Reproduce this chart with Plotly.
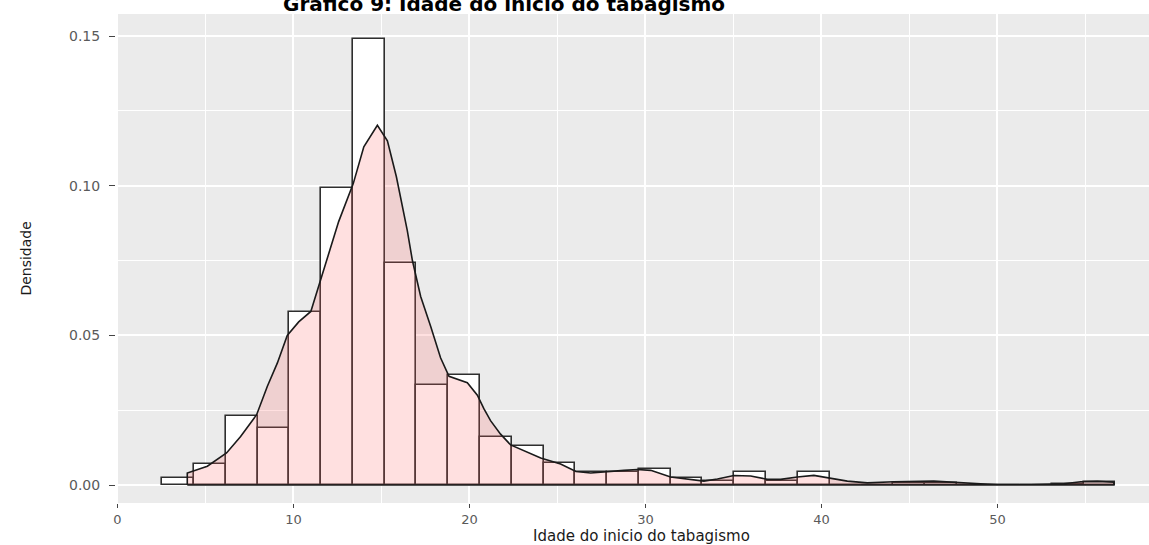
import plotly.graph_objects as go

# Histogram bins (age, years) and their densities
bin_edges = [2.55, 4.36, 6.16, 7.97, 9.77, 11.58, 13.38, 15.19, 16.99, 18.80,
             20.60, 22.41, 24.21, 26.02, 27.82, 29.63, 31.43, 33.24, 35.04, 36.85,
             38.65, 40.46, 42.26, 44.07, 45.87, 47.68, 49.48, 51.29, 53.09, 54.90,
             56.70]
bin_density = [0.0024, 0.0070, 0.0230, 0.0192, 0.0578, 0.0991, 0.1490, 0.0743,
               0.0335, 0.0368, 0.0160, 0.0129, 0.0072, 0.0044, 0.0044, 0.0054,
               0.0024, 0.0012, 0.0044, 0.0015, 0.0044, 0.0, 0.0, 0.0008, 0.0008,
               0.0, 0.0, 0.0, 0.0005, 0.0010]

# Kernel density estimate of the same ages
kde_age = [3.97, 5.11, 6.20, 7.00, 7.91, 8.52, 9.09, 9.65, 10.30, 10.99, 11.67,
           12.57, 13.40, 14.00, 14.77, 15.34, 15.85, 16.47, 16.76, 17.23, 17.80,
           18.36, 18.84, 19.88, 20.45, 20.82, 21.20, 21.77, 22.34, 24.05, 25.18,
           26.05, 26.89, 27.74, 28.78, 29.54, 30.30, 31.43, 32.57, 33.32, 34.09,
           35.03, 35.98, 36.93, 37.68, 38.63, 39.57, 40.47, 41.47, 42.61, 44.10,
           46.38, 47.72, 49.05, 50.00, 51.90, 53.77, 54.73, 55.68, 56.62]
kde_density = [0.0040, 0.0063, 0.0107, 0.0162, 0.0235, 0.0330, 0.0408, 0.0500,
               0.0545, 0.0580, 0.0710, 0.0880, 0.1007, 0.1130, 0.1202, 0.1150,
               0.1030, 0.0850, 0.0750, 0.0630, 0.0530, 0.0425, 0.0363, 0.0342,
               0.0300, 0.0255, 0.0215, 0.0170, 0.0134, 0.0090, 0.0070, 0.0045,
               0.0040, 0.0045, 0.0049, 0.0052, 0.0049, 0.0027, 0.0020, 0.0013,
               0.0020, 0.0032, 0.0030, 0.0019, 0.0019, 0.0027, 0.0032, 0.0024,
               0.0013, 0.0007, 0.0011, 0.0013, 0.0008, 0.0003, 0.0001, 0.0001,
               0.0004, 0.0011, 0.0012, 0.0009]

x_ticks = [0, 10, 20, 30, 40, 50]
y_ticks = [0.00, 0.05, 0.10, 0.15]
y_tick_text = ["0.00", "0.05", "0.10", "0.15"]

title_text = "Gráfico 9: Idade do início do tabagismo"
x_title = "Idade do inicio do tabagismo"
y_title = "Densidade"

FONT = "DejaVu Sans, Liberation Sans, Arial, sans-serif"

centers = [(a + b) / 2 for a, b in zip(bin_edges[:-1], bin_edges[1:])]
widths = [b - a for a, b in zip(bin_edges[:-1], bin_edges[1:])]

fig = go.Figure()

fig.add_trace(go.Bar(
    x=centers, y=bin_density, width=widths,
    marker=dict(color="white", line=dict(color="#2e2e2e", width=1.6)),
    hoverinfo="skip", showlegend=False,
))

# closed outline of the density area (upper curve plus baseline)
poly_x = [kde_age[0]] + kde_age + [kde_age[-1], kde_age[0]]
poly_y = [0] + kde_density + [0, 0]
fig.add_trace(go.Scatter(
    x=poly_x, y=poly_y, mode="lines", fill="toself",
    fillcolor="rgba(255,102,102,0.2)",
    line=dict(color="#1a1a1a", width=1.6),
    hoverinfo="skip", showlegend=False,
))

fig.update_layout(
    width=1149, height=545,
    margin=dict(l=116, r=0, t=14, b=42),
    paper_bgcolor="white", plot_bgcolor="#EBEBEB",
    bargap=0,
    font=dict(family=FONT),
    xaxis=dict(
        range=[-0.08, 58.61], tickvals=x_ticks,
        ticks="outside", ticklen=4, tickcolor="#444444", tickwidth=1,
        tickfont=dict(size=13, color="#5a5a5a", family=FONT),
        showgrid=True, gridcolor="white", gridwidth=1.8,
        minor=dict(dtick=5, tick0=0, showgrid=True, gridcolor="white", gridwidth=0.9),
        zeroline=False, showline=False,
    ),
    yaxis=dict(
        range=[-0.00601, 0.15737], tickvals=y_ticks, ticktext=y_tick_text,
        ticks="outside", ticklen=6, tickcolor="#444444", tickwidth=1,
        ticklabelstandoff=6,
        tickfont=dict(size=14, color="#5a5a5a", family=FONT),
        showgrid=True, gridcolor="white", gridwidth=1.8,
        minor=dict(dtick=0.025, tick0=0, showgrid=True, gridcolor="white", gridwidth=0.9),
        zeroline=False, showline=False,
    ),
    annotations=[
        dict(text="<b>" + title_text + "</b>", xref="paper", yref="paper",
             x=0.376, y=1.0204, xanchor="center", yanchor="middle",
             showarrow=False, font=dict(size=20, color="black", family=FONT)),
        dict(text=x_title, xref="paper", yref="paper",
             x=0.509, y=-0.0675, xanchor="center", yanchor="middle",
             showarrow=False, font=dict(size=15, color="#1a1a1a", family=FONT)),
        dict(text=y_title, xref="paper", yref="paper", textangle=-90,
             x=-0.088, y=0.5, xanchor="center", yanchor="middle",
             showarrow=False, font=dict(size=14, color="#1a1a1a", family=FONT)),
    ],
)

fig.write_html("out.html")
